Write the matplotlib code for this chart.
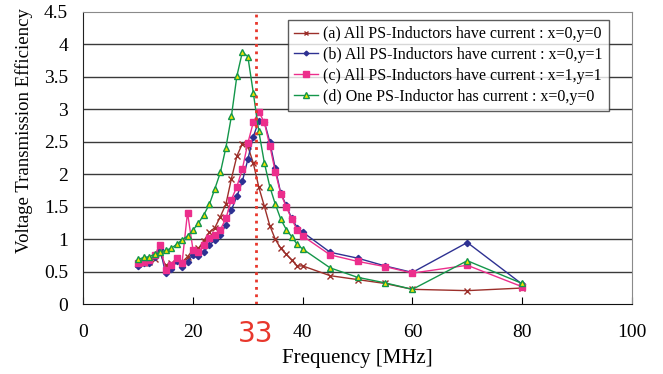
import numpy as np
import matplotlib
matplotlib.use("Agg")
import matplotlib.pyplot as plt

plt.rcParams['font.family'] = ['Liberation Serif', 'DejaVu Serif']

# Frequency points [MHz]
freq = [10, 11, 12, 13, 14, 15, 16, 17, 18, 19, 20, 21, 22, 23, 24, 25, 26, 27, 28, 29,
        30, 31, 32, 33, 34, 35, 36, 37, 38, 39, 40, 45, 50, 55, 60, 70, 80]

# (a) All PS-Inductors have current : x=0,y=0
eff_a = [0.62, 0.63, 0.65, 0.70, 0.78, 0.60, 0.63, 0.66, 0.65, 0.73, 0.84, 0.86, 0.98, 1.11,
         1.18, 1.35, 1.54, 1.93, 2.28, 2.47, 2.43, 2.17, 1.80, 1.51, 1.21, 1.00, 0.86, 0.77,
         0.68, 0.59, 0.59, 0.44, 0.38, 0.32, 0.23, 0.21, 0.25]
# (b) All PS-Inductors have current : x=0,y=1
eff_b = [0.59, 0.63, 0.63, 0.73, 0.85, 0.48, 0.55, 0.66, 0.58, 0.65, 0.76, 0.74, 0.81, 0.91,
         0.99, 1.07, 1.22, 1.45, 1.66, 1.89, 2.23, 2.58, 2.82, 2.81, 2.50, 2.09, 1.71, 1.52,
         1.32, 1.18, 1.11, 0.80, 0.71, 0.59, 0.49, 0.95, 0.31]
# (c) All PS-Inductors have current : x=1,y=1
eff_c = [0.63, 0.65, 0.68, 0.76, 0.91, 0.53, 0.60, 0.71, 0.63, 1.41, 0.84, 0.81, 0.91, 1.02,
         1.07, 1.15, 1.32, 1.61, 1.81, 2.08, 2.48, 2.80, 2.96, 2.80, 2.44, 2.04, 1.70, 1.50,
         1.31, 1.14, 1.05, 0.76, 0.66, 0.58, 0.48, 0.60, 0.27]
# (d) One PS-Inductor has current : x=0,y=0
eff_d = [0.69, 0.72, 0.73, 0.77, 0.80, 0.83, 0.86, 0.92, 0.99, 1.05, 1.14, 1.25, 1.38, 1.54,
         1.78, 2.03, 2.41, 2.89, 3.51, 3.88, 3.81, 3.25, 2.66, 2.18, 1.81, 1.54, 1.31, 1.15,
         1.04, 0.92, 0.85, 0.56, 0.415, 0.33, 0.23, 0.67, 0.32]

labels = ["(a) All PS-Inductors have current : x=0,y=0",
          "(b) All PS-Inductors have current : x=0,y=1",
          "(c) All PS-Inductors have current : x=1,y=1",
          "(d) One PS-Inductor has current : x=0,y=0"]

resonance = 31.5

fig = plt.figure(figsize=(6.63, 3.74), dpi=100)
ax = fig.add_axes([0.1256, 0.1864, 0.953 - 0.1256, 0.9687 - 0.1864])

# horizontal grid lines
for yv in np.arange(0.5, 4.5, 0.5):
    ax.axhline(yv, color='#3a3a3a', lw=1.0, zorder=0)

ax.plot(freq, eff_a, color='#9c2f2a', lw=1.0, marker='x', ms=4.5, mew=1.0, label=labels[0])
ax.plot(freq, eff_b, color='#2e3192', lw=1.0, marker='D', ms=3.2, label=labels[1])
ax.plot(freq, eff_c, color='#ec2e8c', lw=1.0, marker='s', ms=5, label=labels[2])
ax.plot(freq, eff_d, color='#13964a', lw=1.0, marker='^', ms=5, mfc='#f2e600',
        mec='#13964a', mew=1.0, label=labels[3])

ax.axvline(resonance, color='#e8372c', lw=2.0, ls=':', zorder=5)

ax.set_xlim(0, 100)
ax.set_ylim(0, 4.5)
ax.set_xticks(np.arange(0, 101, 20))
ax.set_yticks(np.arange(0, 4.51, 0.5))
ax.set_yticklabels(['0', '0.5', '1', '1.5', '2', '2.5', '3', '3.5', '4', '4.5'])
ax.tick_params(axis='x', direction='in', length=5, pad=14, labelsize=14)
ax.tick_params(axis='y', length=0, pad=11, labelsize=14)

for side in ['top', 'right']:
    ax.spines[side].set_color('#8a8a8a')
ax.spines['left'].set_color('#222222')
ax.spines['bottom'].set_color('#111111')

ax.text(resonance, -0.102, '33', transform=ax.get_xaxis_transform(), ha='center', va='center',
        color='#e8372c', fontsize=20, family=['Liberation Sans Narrow', 'DejaVu Sans'])

ax.set_xlabel('Frequency [MHz]', fontsize=15, labelpad=6)
ax.set_ylabel('Voltage Transmission Efficiency', fontsize=13.5)
ax.yaxis.set_label_coords(-0.092, 0.595)

leg = ax.legend(loc='upper left', bbox_to_anchor=(0.373, 0.972), fontsize=11.5,
                frameon=True, fancybox=False, handlelength=1.5, handletextpad=0.3,
                borderpad=0.4, labelspacing=0.3, markerscale=0.75, borderaxespad=0)
leg.get_frame().set_edgecolor('#333333')
leg.get_frame().set_linewidth(1.0)

fig.savefig('out.png', dpi=100)
